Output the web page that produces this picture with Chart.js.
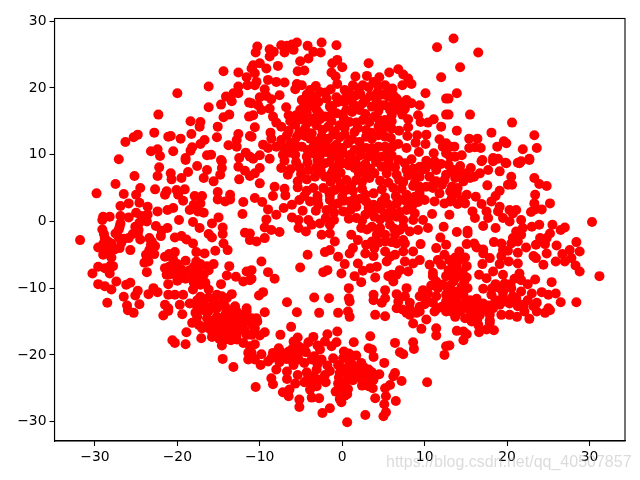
<!DOCTYPE html>
<html><head><meta charset="utf-8">
<style>html,body{margin:0;padding:0;background:#fff}canvas{display:block}</style>
<script src="https://cdn.jsdelivr.net/npm/chart.js@4"></script></head>
<body><canvas id="c" width="640" height="480"></canvas>
<script>
const xTicks=[-30,-20,-10,0,10,20,30];
const yTicks=[-30,-20,-10,0,10,20,30];
const watermark="https://blog.csdn.net/qq_40507857";
const upperLeft=[[-14.4,22.5],[-12.6,22.3],[-11.6,21.6],[-11,22.9],[-16.2,20.2],[-20,19.2],[-12.6,20.2],[-14.1,18.7],[-13.2,19.2],[-12.6,19.2],[-13.4,18],[-14.7,17.5],[-16.2,17.1],[-11.3,17.8],[-11.5,20.4],[-22.3,16],[-13.7,16],[-14.4,15.6],[-11.3,15.7],[-18.4,15],[-17.2,14.9],[-17.3,14.2],[-15.1,14.2],[-18.3,13.1],[-12.6,13.1],[-22.8,13.3],[-24.8,13],[-25.3,12.6],[-26.3,11.9],[-21.1,12.7],[-20.8,12.8],[-19.6,12.4],[-15.2,12.6],[-12.8,12.2],[-11.2,12.8],[-16.7,12.2],[-17.2,11.6],[-13.8,11.4],[-12.8,11.2],[-18.2,11.1],[-18.4,10.6],[-22.4,10.8],[-23.2,10.5],[-20.5,10.5],[-22.1,9.8],[-11.7,10.3],[-19,9.5],[-16.4,9.9],[-15.9,10],[-14.7,9.2],[-12.5,9.5],[-27.1,9.3],[-11.2,9.7]];
const upperMiddle=[[-10.3,26.2],[-10.5,25.3],[-8.8,25.8],[-8.3,25.4],[-8.8,24.7],[-7.4,26.4],[-6.7,26.3],[-6.1,26.5],[-5.5,26.8],[-7,25.3],[-5.9,25.7],[-4.2,26.3],[-2.5,26.8],[-0.7,26.4],[-3.5,25.4],[-2.6,25.3],[-4.1,24.4],[-5.1,24],[-5.4,22.5],[-4.6,22.6],[-7.8,23.3],[-10,23.7],[-10.8,23.4],[-9.2,22.9],[-10.6,22.2],[-0.6,24.2],[-1.2,23.7],[0,23.1],[-1.3,22.3],[-0.8,21.7],[3.2,23.7],[5.7,22.3],[6.8,22.8],[7.4,22],[8,21.4],[8.4,20.6],[1.6,21.7],[3,21.8],[4.5,21.6],[6.1,19.9],[7.3,20.4],[12,21.6],[11.5,26.1],[10.1,19.2],[12.6,18.4],[12.6,16],[9.4,17.4],[9.2,15.9],[9.5,14.9],[10.4,14.8],[11.1,15.3],[12,14.2],[8,15.3],[8,14.1],[6.9,13.6],[7.9,12.8],[9.1,12.9],[10.2,13],[8.9,11.8],[10.1,11.6],[11.8,12.3],[12.6,11.7],[12.2,11.2],[6.8,11.6],[6.1,11.2],[7.8,11],[9.3,10.4],[11.1,10.2],[12.6,10.2],[6,9.9],
[-10.4,20.9],[-9,21.2],[-8,20.9],[-7,20.8],[-9.4,19.8],[-10.6,20.4],[-7.6,18.9],[-5.5,20.6],[-4.9,20.4],[-5.7,19.8],[-9.2,18.8],[-8.6,18.3],[-10,18.6],[-11,17.7],[-10.2,17.4],[-8.8,16.9],[-9.8,16.7],[-10.8,15.9],[-6.8,17.1],[-6.5,15.9],[-8.4,15.7],[-8,14.8],[-7.4,14.2],[-10.6,14.1],[-8.7,13.3],[-11,12.7],[-9.6,11.5],[-8.6,12.4],[-9,11],[-8,11.2],[-7.2,10],[-10,9.9],[-8.8,9.4],[-10.8,9.4],
[-3.9,19.7],[-2.7,19.4],[-1.4,19.8],[-4.9,18.2],[-3.9,18.2],[-2.9,17.9],[-1.9,18.4],[-4.1,17.2],[-5.1,16.7],[-3.1,16.7],[-1.5,17.2],[-0.5,17.9],[0.3,19.7],[1.3,20.4],[2.5,20.4],[3.8,20.9],[5.2,20.4],[1.7,18.9],[2.8,18.2],[0.9,18.2],[4.2,19.2],[5.6,18.7],[6.6,18.4],[7.8,18.2],[8.4,17.7],[4.8,17.4],[5.8,16.7],[6.8,16.7],[7.6,16.9],[3.6,17.2],[2.1,16.7],[0.5,16.7],[-0.7,16.2],[-2.1,15.7],[-3.5,15.4],[-4.7,15.2],[-5.7,14.5],[-4.5,13.9],[-3.1,14.4],[-1.7,14.2],[-0.3,14.4],[0.9,14.9],[2.5,15.2],[3.9,15.7],[5.2,15.2],[4.4,14.2],[5.4,14.2],[2.9,13.7],[1.5,13.4],[0.3,13],[-1.1,13],[-2.5,12.7],[-3.9,12.4],[-5.5,12.7],[-6.7,12.9],[-6.3,11.7],[-4.9,11.2],[-3.5,11.2],[-2.1,11.5],[-0.7,11.5],[0.7,11.7],[2.1,11.9],[3.6,12.4],[5.2,12.7],[4.4,11.2],[2.9,11],[1.5,10.7],[0.1,10.2],[-1.3,9.9],[-2.7,9.9],[-4.3,9.7],[-5.7,10],[3.2,9.7],[4.8,9.7],[0.9,9.4]];
const upperRight=[[13.5,27.4],[16.5,25.3],[14.3,23.1],[13.9,19.2],[12.9,18.4],[15.5,16],[12.9,16],[20.6,14.8],[13.9,13.6],[18.1,13.3],[23.3,12.9],[15.4,12.4],[16.4,12.4],[19.6,12],[19.9,11.7],[18.8,11.2],[21.9,10.8],[23.6,11],[13.6,11.2],[15.4,11],[16.1,11.1],[16.8,11],[13.1,11.2],[14.5,9.9],[13.7,9.7],[13.1,9.7],[17,9.2],[18.3,9.5],[18.9,9.4],[19.8,8.8],[22.7,9.4],[21.7,9],[21.3,8.8]];
const middleLeft=[[-22.2,8.1],[-22.4,6.8],[-19,9.2],[-17.6,8.3],[-25.2,6.8],[-20.8,7.2],[-18.7,7.4],[-20.7,6.3],[-19.5,6.5],[-16.4,7.7],[-16.8,6.5],[-15.6,6],[-14.8,7],[-14.6,8],[-14.6,9],[-12.6,8.2],[-11.8,7.6],[-12.5,6.3],[-11.2,6.8],[-27.5,5.6],[-29.8,4.2],[-24.5,5],[-22.7,4.8],[-25,4],[-26.5,4.1],[-21.3,4.5],[-21.5,4],[-20.1,4.7],[-19.1,4.8],[-19.9,4],[-19.3,3.1],[-17.9,3.8],[-17,3.8],[-15.1,4.4],[-15.1,3.3],[-13.6,4],[-14.2,3],[-13.6,3.3],[-12,2.9],[-26.9,2.3],[-25.9,2.7],[-24.6,2.8],[-23.6,2.2],[-18,2.5],[-17.2,2.7],[-18.5,1.7],[-17.5,1.5],[-16.8,1.3],[-21.2,1.7],[-20.5,2],[-22.4,1.5],[-12.1,1.1],[-29,0.7],[-28.2,0.7],[-29.1,0.2],[-26.9,0.8],[-25.9,0.6],[-24.4,0.8],[-23.7,0],[-24.6,-0.2],[-19.8,0.2],[-18.1,-0.1],[-15,0.6],[-15.8,-0.3],[-26.9,-0.3],[-29.1,-1.2],[-27.1,-1.2],[-24.7,-1.3],[-22.6,-0.7],[-21.2,-1],[-21.9,-1.4],[-17.3,-1],[-14.5,-0.9],[-11.8,-1.7],[-11.2,-1.8],[-31.8,-2.8],[-28.8,-2.5],[-27.1,-2.4],[-25.9,-2.5],[-24.5,-2.7],[-22,-2.2],[-20.3,-2.4],[-19.5,-2.2],[-18.9,-2.7],[-16.2,-1.9],[-15.8,-2.4],[-14.5,-1.9],[-14.4,-3.3],[-23.4,-2.5],[-18.1,-3.3],[-29,-3.4],[-28,-3.3],[-29.6,-3.9],[-28.8,-4.3],[-27.6,-4.2],[-25.7,-4.3],[-23.2,-3.5],[-22.7,-3.7],[-23.4,-4.3],[-17.7,-4.6],[-16.7,-4.8],[-15.4,-4.4],[-13.9,-4.3],[-20.3,-4.6],[-21,-4.9],[-22.8,-4.9],[-21.5,-5.3],[-28,-5.4],[-20.5,-5.8],[-23.7,-5.5],[-24,-6.2],[-23.5,-6],[-19,-5.9],[-17.7,-6],[-15.6,-6.4],[-16.4,-6.7],[-27.8,-6.7],[-29.6,-6.8],[-28.8,-7],[-13.7,-6.7],[-21.5,-7],[-20.7,-7],[-19.5,-7.2],[-18.5,-7.3],[-17.5,-7],[-30.3,-7.8],[-28.2,-7.8],[-23.7,-7.6],[-21.3,-8],[-20,-8],[-18,-8.3],[-16.8,-8],[-14,-8.1],[-12.9,-8.3],[-11.6,-7.5],[-12,-9],[-11.2,-8.8],[-20,-8.9],[-21.1,-9.4],[-17.2,-9.5],[-14.7,-9.4],[-29.6,-9.4],[-27.4,-9],[-25.7,-9.2],[-26.2,-9.5],[-28.8,-9.7],[-28,-10.2],[-24.8,-10.4],[-22.9,-10],[-23.5,-10.9],[-22.4,-10.6],[-26.5,-11.3],[-25.1,-11.1],[-18.1,-10.2],[-16.2,-10.2],[-21.1,-11],[-20.3,-11],[-19.3,-11],[-17.2,-11.3],[-15.2,-11],[-13.4,-10.9],[-14,-11.5],[-28.5,-12.2],[-24.6,-12.4],[-26.1,-12.6],[-21.5,-12.5],[-19.7,-12.5],[-18.5,-12.3],[-16.8,-12.3],[-15.6,-12],[-14.8,-12.5],[-13,-12.7],[-11.6,-13],[-21.1,-13]];
const center=[[-10,8],[-10,5.7],[-10.6,7.2],[-8.2,5.2],[-8.4,3.8],[-10.6,3.5],[-9.7,2.9],[-9,1.8],[-8,1],[-9.2,0.3],[-9.4,-0.9],[-8.6,-1.3],[-7.6,-1.6],[-9.4,-2.5],[-10.4,-3],[-11.2,-2.8],[-5.2,3.2],[-4.8,1.6],[-6.1,0.6],[-7.1,2],[-6.1,2.5],[-5.3,0.2],[-5.3,-1],[-4.4,-1.5],[-4.1,0.2],[-3.7,-0.5],[-2.7,-0.3],[-1.5,-0.5],[-2.5,-2],[-1.5,-1.8],[-0.9,-3],[-2.1,-4.6],[-1.5,-4.3],[-0.5,-5.3],[0.3,-6.4],[-4.2,-5],[-5.1,-6.9],[-9.8,-6],[-9,-7.6],[-8.2,-8.6],[-11,-7.3],[-11,-8.6],[-9.6,-10.6],[-10.1,-11.1],[-1.8,-7.3],[-2.3,-7.6],[-0.1,-7.8],[1.5,-8.2],[2.3,-9.1],[4,-8.4],[1.9,-6.3],[2.5,-7.4],[0.8,-10],[0.8,-11.5],[0.9,-12],[-3.4,-11.4],[-1.6,-11.5],[-6.7,-12.1],[3.8,-11],[3.8,-11.8],[5.2,-10.3],[4.8,-12.2],[5.2,-11.5],[6.6,-10.9],[7.8,-10],[6,-8],[5.6,-8.2],[6.6,-8],[6.2,-9],[9.5,-3.4],[12.3,-0.8],[11.9,-2.4],[10.9,1.1],[8.6,5.3],
[-4.1,7.7],[-3.1,8.2],[-2.1,8.7],[-1.1,7.7],[0.1,8.7],[1.5,8],[2.8,7.2],[-3.3,6.7],[-2.1,6.7],[-0.7,6.5],[0.5,6.2],[1.7,6.2],[-3.5,5],[-2.3,5],[-0.9,4.7],[0.5,4.7],[-3.9,3],[-2.9,2.5],[-1.5,3.2],[-0.5,2.7],[0.9,3],[-1.9,1.7],[0.1,1.5],[1.7,2.2],[2.9,3],[1.7,0.5],[2.8,1],[3.8,4.2],[4.8,3],[3.8,2.5],[3.9,0.7],[5.2,1.2],[6.6,2.7],[7.8,3],[6.6,0.7],[5.8,-0.5],[4.6,-1],[3.6,-0.8],[1.1,-2],[2.3,-1],[1.9,-2.8],[2.9,-3.5],[4.2,-2],[5.2,-2],[6.4,-2],[3.9,-4],[1.3,-4],[2.8,-4.8],[0.9,-4.8],[5.2,-4.5],[6.4,-5],[7.4,-4.5],[8.6,-4.5],[9.4,-5.8],[7.6,-6],[8.6,-6.3],[4.2,-6.8],[3.4,-7],[5.4,-6],[8,-7.5],[7,-7.3],[6.6,-3.3],[5.2,-3],[7.4,-2.8],[8.6,0.2],[9.8,0.2],[8.8,1.2],[10.4,-1],[9.2,-1.3],[8.2,-1.5],[7.4,-0.8],[7.8,1.7],[6.6,7],[6.2,5],[4.8,8.2],[3.3,6.5],[5.8,8.2],[7.8,7.7],[9.4,6.7],[10.2,5.2],[8.8,3.7],[10,3.2],[11.2,3],[12.4,2.7],[10.6,6.7],[11.4,7.7],[12.6,7],[12.1,5.5],[13.1,4.5],[7.6,8.7],[9.4,8.2],[12.9,8.5],[11.8,4.2],
[10.6,-6.5],[11,-7.7],[11.6,-5.8],[12.4,-5],[11.4,-4],[12.6,-3.5],[12,-6.5],[12.9,-7.3],[11.4,-9],[11,-8.2],[12.6,-8.2],[12.2,-9.5],[9.8,-10.3],[9.4,-11.2],[10.4,-10.8],[11.4,-11.2],[12.6,-11],[11,-12.2],[10.2,-11.5],[8.2,-12.2],[6.8,-12],[7.6,-11.2],[9.4,-12.8],[12.1,-12.8],[6.6,-13]];
const middleRight=[[15.6,8],[13.5,7.7],[16.9,9],[18.3,9],[19.9,8.7],[21.5,8.7],[22.7,9.2],[17.7,7.7],[16.7,7.2],[19.1,7.5],[20.5,6.7],[15.5,6.5],[14.7,6],[13.7,6.5],[23.3,6.5],[23.9,5.6],[24.8,5.3],[17.6,5.4],[20.1,5.5],[20.6,5.5],[13.3,5.2],[14,5],[19.1,4.6],[18.6,3.8],[23.4,4],[15.1,4],[16.2,3.7],[13.3,3.5],[18.1,3],[14.5,3.2],[14,2.6],[14.9,2.7],[16.9,2.6],[25.2,2.7],[23.3,2.7],[13.1,3],[19.1,2.2],[23.4,1.8],[24.2,1.8],[22.9,1.4],[15.8,1.5],[17.5,1.5],[20.3,1.7],[21.1,1.7],[18.9,1.5],[20.7,1.2],[16.1,0.5],[17.7,0.5],[19.5,0.5],[20.3,0],[21.7,0.2],[13,1],[30.3,-0.1],[17.1,-0.7],[18.6,-1],[13.9,-1.6],[15.2,-1.4],[15.2,-1.8],[23.9,-0.5],[23,-0.8],[25.5,-0.5],[27,-0.9],[26.5,-1.3],[25.2,-1.8],[21.9,-1],[21.1,-1.5],[21.7,-2],[20.7,-2.5],[24,-2.5],[24.8,-2.5],[18.4,-3.1],[19.3,-3.3],[15.1,-3.4],[16,-3.3],[20.5,-3.3],[21.3,-3],[23.5,-3.5],[24.6,-3.4],[26,-3.6],[28.4,-3.1],[22.3,-3.9],[17.1,-4.2],[16.3,-3.9],[19.5,-4.3],[20.1,-4.4],[28.8,-4.5],[27.6,-4.3],[26.7,-4.9],[24.8,-4.8],[21.3,-4.7],[14.2,-4.5],[23.2,-5.2],[23.5,-5.5],[19.3,-5.2],[17.1,-4.8],[17.9,-5.5],[13.7,-5.4],[14.9,-5.4],[14.2,-5.8],[25.9,-6],[27,-6],[27.8,-5.5],[24.4,-6.5],[17,-6.4],[20.2,-6],[21.3,-6.3],[19.1,-6.4],[28.3,-6.6],[15.1,-6.7],[13.9,-6.8],[28.8,-7.5],[31.2,-8.2],[21.5,-7.8],[19.5,-8],[18.3,-7.5],[16.6,-8],[17.5,-8.5],[21.7,-8.8],[23.4,-8.7],[25.4,-9.1],[22.5,-9.4],[19.7,-9.3],[15.1,-8.4],[14.1,-8],[13.3,-7.8],[13.5,-9],[14.5,-9.8],[17.1,-10.1],[19.1,-10],[20.5,-10],[21.7,-10.5],[23,-10.8],[24.2,-10.6],[25,-11],[25.9,-10.8],[13.5,-10.5],[14.7,-11],[16.3,-11.6],[18.1,-11],[19.5,-11.3],[21.1,-11.5],[22.5,-11.8],[26.5,-12.1],[28.4,-12.1],[13.9,-12],[17.1,-12.3],[19.1,-12.5],[20.3,-12.3],[21.7,-12.5],[23.2,-12.7],[25,-13],[13.3,-12.8],[15.1,-13]];
const lowerLeft=[[-25.3,-13.7],[-26,-13.3],[-21.7,-14.1],[-21.1,-13.4],[-19.4,-13.9],[-17.8,-13.7],[-18.9,-16.6],[-18.2,-15.2],[-17.4,-15.5],[-17.1,-17.5],[-20.6,-17.8],[-20.3,-18.2],[-19,-18.4],[-14.5,-20.6],[-13.2,-21.8],[-11.4,-20.7],[-14.6,-18.6],[-15.8,-17.3],[-16.4,-14.5],[-15.2,-14.3],[-13.8,-14.5],[-15.6,-15.5],[-14.6,-15.7],[-13.4,-15.7],[-12.4,-16],[-12.6,-14.7],[-16,-16.2],[-15,-16.7],[-13.8,-16.7],[-12.8,-17],[-14.2,-17.7],[-14.8,-14.7],[-14.4,-15],[-15.2,-16],[-12.8,-17.7],[-11.6,-17],[-12,-18.2],[-11.2,-18.7],[-11.4,-19.7],[-17.6,-14.3],[-17,-16],[-11.6,-13.5],[-12.8,-13.5]];
const lowerMiddle=[[-5.5,-13.6],[-2.8,-13.7],[-0.5,-13.7],[0.7,-13.5],[0.9,-14.3],[4,-14],[5.2,-14.2],[-9.4,-13.6],[-10.4,-14.5],[-6.2,-15.8],[-10.6,-16],[-9.4,-16.6],[-10,-17.1],[-11,-17],[-7.5,-17],[-0.6,-16.5],[-1.8,-16.9],[3.4,-17.2],[-5.4,-17.4],[-3.5,-17.3],[-5.9,-18],[-4.1,-18.1],[-2.1,-18],[-0.7,-18.1],[1.4,-18.1],[6.4,-18.2],[8.6,-18.1],[8.7,-19.1],[-7.7,-19],[-8.4,-19.7],[-6.5,-19.5],[-5.1,-19],[-2.7,-19.2],[-1.3,-18.7],[3.2,-19],[3.6,-19.2],[3.8,-20.3],[7,-19.6],[7.4,-19.9],[0.2,-19.5],[-9.8,-19.9],[-11,-19.7],[-10.6,-20.7],[-9.9,-21.5],[-9,-21],[-7.6,-21.1],[-6.3,-20.7],[-5.3,-20.7],[-3.7,-20.7],[-2.5,-20.7],[-1.1,-20.5],[0.1,-20.5],[1.7,-20.1],[2.3,-21.2],[5.1,-21.2],[0.9,-21],[-5.9,-21.5],[-0.5,-21.5],[-8,-22.2],[-6.7,-22.5],[-4.3,-22.6],[-3.1,-22.2],[-2.1,-23],[0.5,-22],[1.5,-22],[3.2,-22.2],[4.5,-22.9],[6.4,-22.7],[6.2,-23.2],[-0.3,-22.7],[2.5,-23],[0.9,-23],[-8.6,-23.5],[-6.7,-23.6],[-8.4,-24.4],[-5.7,-24.3],[-4.6,-24.1],[-3.7,-24],[-2.9,-23.7],[-2,-24.1],[-0.5,-24.3],[0.5,-24],[1.3,-23.8],[3,-23.5],[3.8,-23.7],[7.2,-23.9],[10.3,-24.1],[-10.5,-24.8],[5.8,-24.5],[2.4,-24.6],[3.2,-24.7],[3.7,-25],[5.2,-25],[-0.1,-25],[0.7,-25.1],[-3.9,-25.2],[-3.1,-24.7],[-7.2,-25.6],[-6.4,-25.2],[-6.5,-26.2],[-3.7,-26.4],[-2.8,-26.5],[0.3,-26.1],[-0.3,-26.6],[-0.1,-27.1],[4,-26.5],[5.3,-26.2],[6.5,-26.9],[-5.2,-26.7],[-5.2,-27.8],[5.1,-27.4],[-1.5,-28],[5.3,-28.6],[-2.4,-28.7],[2.8,-29],[5,-29.2],[0.6,-30.1],[8.2,-14],[9,-13.7],[10.2,-14.7],[8.6,-15.3],[9.6,-16.1],[11.4,-16],[11.4,-17.1],[12.6,-18.7],[12.4,-20],[11.2,-13.5],[7.8,-13.7],[12.6,-13.5]];
const lowerRight=[[13.9,-16.4],[14.7,-16.5],[15.1,-16.9],[14.7,-17.8],[16.6,-16.6],[17.5,-16.2],[18.4,-16.3],[17.9,-15.2],[16.5,-15.5],[15.7,-15],[14.9,-14.5],[13.7,-14.3],[17.9,-14],[16.7,-14],[15.7,-13.7],[22.7,-14.6],[21.2,-14.3],[19.3,-14],[20.3,-14],[24.6,-13.7],[25.2,-13.3],[23.6,-13.5],[22.1,-13.5],[14.3,-13.5],[17.9,-14.8],[13,-18.6]];
const denseCenter=[[-3.2,20.3],[-0.6,20.6],[0.9,19.2],[2,19.9],[3.2,20.1],[4.4,20.2],[5.6,19.6],[-4.3,19],[-3.2,18.7],[-2,19.3],[-0.7,18.6],[0.4,18.5],[2.2,19.1],[3.4,18.8],[5,19],[6.2,18.9],[-4.6,17.5],[-3.4,17.9],[-1.2,17.3],[0.3,17.9],[1.4,17.5],[2.5,17.7],[4.2,18],[5.2,17.4],[6.2,17.6],[7.1,17.8],[-5.6,15.9],[-4.3,16.3],[-2.8,16.2],[-1.4,15.9],[0,16],[1.2,16.4],[2.8,16.1],[4.4,16.6],[6,15.9],[7.3,16],[-6.3,15],[-5.2,15.6],[-4,14.9],[-2.7,15.3],[-1.3,15],[0.2,15.4],[1.7,14.8],[3.3,14.9],[4.5,15.2],[6,15],[-6.5,13.6],[-5.2,13.4],[-3.7,13.2],[-2.4,13.7],[-0.9,13.5],[0.3,14],[1.9,14],[3.5,13.3],[4.8,13.6],[6,13.9],[-7.4,12.2],[-5.8,11.9],[-4.5,12.8],[-3.1,12],[-1.7,12.4],[-0.3,12.6],[1.2,12.3],[2.9,12.7],[4.4,12.9],[5.9,12.5],[-7,11],[-5.6,11.2],[-4.2,10.7],[-2.8,10.8],[-1.3,11],[0,11],[2.2,10.6],[3.6,11],[5.2,11.2],[-6.4,10.3],[-3.5,10.2],[-2,10.4],[-0.5,10.5],[1,10],[2.2,9.9],[3.9,10.2],[5.4,10.1],[-7,9.1],[-5.6,8.9],[-4.2,8.8],[-3,9.2],[-1.5,8.9],[-0.4,9.3],[1.6,9.1],[2.8,8.6],[4.1,8.9],[5.6,9.1],[6.8,9.2],[8.4,9.3],[10.2,9.1],[11.2,9],[-7.4,8],[-6.3,7.8],[-5.2,8.1],[-2.6,7.6],[-0.5,8.3],[0.8,8.4],[2.2,8.2],[3.4,7.9],[6.4,8.1],[8.6,7.9],[10.1,7.9],[-6.6,7],[-5,7.1],[-3,7.4],[-1.3,7.2],[-0.2,7.3],[2,7.3],[3.9,7.2],[5.4,7.2],[6.9,6.2],[8,6.9],[8.8,7],[-5.4,6],[-4.3,6.3],[-1.4,5.9],[-0.2,5.6],[1.1,5.4],[2.4,5.9],[4.6,6.1],[5.6,5.8],[7.4,5.9],[8.8,5.8],[11.4,6],[-7,4.9],[-5.4,5.1],[-4.3,4.6],[-1.6,4.4],[-0.2,5],[1.3,4.6],[2.4,4.9],[4.8,4.8],[7.2,4.9],[9.4,5.2],[11,5],[-6.9,3.9],[-4.6,3.8],[-3,3.8],[-1.5,3.9],[0,3.7],[1.5,3.4],[2.8,4],[5.2,3.6],[6.5,3.8],[7.8,4],[9.4,3.9],[-3,3.2],[-1.1,2.4],[0.2,3.1],[2.2,3.4],[3.2,2],[5.5,2.6],[7,3.2],[8.6,2.6],[9.2,2.9],[-3.2,1.6],[-1,1.3],[1,1.7],[3.6,1.5],[4.6,1.9],[6,1.6],[7,1.4],[8.4,2],[-2,0.5],[-1,0.2],[0.8,0.4],[2.4,0.1],[4.6,0.3],[5.6,0.5],[7.4,0.2],[3,-1.2],[6.3,-1.1],[7,-1.3],[3.6,-3],[4.4,-3.2],[6,-3.1],[7.6,-3.3],[3.8,-5.2],[5.8,-5.3],[8.6,7.4],[9.8,7.8],[11,8.5],[12,8.6],[12.4,6.2],[11,5.4],[9.4,4.6],[13.2,7.5],[14.3,8.3],[15,7.2],[14.2,7],[16,6.7],[13.9,4.2]];
const denseClusters=[[14.6,-7.6],[13.4,-6.8],[13.1,-9.6],[14.2,-10.4],[15.2,-10],[13.7,-11.3],[15,-12],[14.8,-9],[13.7,-8.5],[14.3,-12.7],[12.9,-12],[13,-5.8],[15.5,-11.8],[16,-12.6],[17.8,-12.6],[18.6,-11.8],[18.3,-13],[19.8,-12],[20.7,-11.2],[19.5,-10.6],[18.6,-9.4],[20.4,-9.4],[20.9,-8.6],[16.4,-13],[15.6,-13.5],[16.4,-14.6],[17.2,-13.2],[21.3,-12.7],[22,-12.8],[23.6,-12.2],[18.2,-10],[10.8,-9.6],[11.6,-10],[12.8,-10],[12.6,-12],[13.2,-13.5],[11.6,-13],[9.4,-13.5],[10,-12.4],[8.2,-13],[7.3,-13.2],[-16.2,-13.4],[-15.2,-13],[-13.6,-13.4],[-14.2,-14],[-15.6,-14.8],[-13.2,-14.3],[-16,-15],[-13,-16.4],[-14,-16],[-14.2,-16.9],[-15.6,-16.8],[-13,-15.2],[-11.9,-15.2],[-11.8,-16.4],[-14.9,-17.6],[-13.5,-17.8],[-16.6,-15.8],[-16.8,-13.3],[-12,-14],[-11,-14.5],[-10.9,-15.5],[-10.6,-18.4],[-10.3,-15],[-17.6,-12.8],[-16,-12.9],[-15.4,-13],[-14.2,-12.8],[-17.6,-11.8],[-16.2,-11.4],[-14.6,-11.2],[-18,-9.2],[-17.6,-8.9],[-16.6,-9.2],[-19,-8.6],[-20.4,-7.6],[-21,-6.8],[-19.3,-8],[-17.2,-7.8],[-16.2,-7.3],[-18,-6.8],[-17.2,-6.4],[-20,-6.4],[-20.6,-5.4],[-20.8,-7.9],[-4.4,-19.6],[-3.4,-20.2],[-4.6,-21.2],[-3,-21.4],[-1.8,-21.6],[-1.5,-22.4],[-3.5,-23.2],[-4.2,-23.6],[-5.4,-23],[-0.2,-21.8],[0.6,-22.8],[1.2,-21.4],[1.9,-22.6],[-0.4,-23.4],[0.6,-25.9],[-0.8,-25.5],[2,-23.4],[3.3,-23],[-6,-19],[-7,-20],[-6.8,-20.6],[-7.6,-20],[-8.6,-20.5],[-7.4,-19.6],[-4.6,-19],[-3,-18.6],[0.8,-19.8],[1,-20],[2.6,-21.8],[3.6,-22.6],[-5.6,-19.6],[-5.4,-20],[-5.3,-18.7],[-28.9,-1.9],[-28.4,-3],[-28.5,-4.6],[-29,-5],[-27,-4],[-27,-0.8],[-27.5,-1.8],[-26.5,-2.6],[-25.4,-1.9],[-25.1,-0.8],[-23.9,0.8],[-25,1.3],[-24.8,-1.8],[-23.6,1],[-26.8,-3.2],[-28.1,-6.6],[-23.1,-3],[-23.8,-5]];
const points=[...upperLeft,...upperMiddle,...upperRight,...middleLeft,...center,...middleRight,...lowerLeft,...lowerMiddle,...lowerRight,...denseCenter,...denseClusters].map(p=>({x:p[0],y:p[1]}));
const tickFont={family:"'DejaVu Sans'",size:13.9};
const frame={id:'frame',afterDraw(c){const a=c.chartArea,g=c.ctx;g.save();g.strokeStyle='#000';g.lineWidth=1.1;g.strokeRect(a.left,a.top,a.right-a.left,a.bottom-a.top);
g.font="16px 'Liberation Sans'";g.fillStyle='rgba(190,190,190,0.55)';g.textBaseline='alphabetic';g.textAlign='left';g.fillText(watermark,386,467);g.restore();}};
new Chart(document.getElementById('c'),{type:'scatter',plugins:[frame],
data:{datasets:[{data:points,backgroundColor:'#ff0000',borderWidth:0,pointRadius:5,pointHoverRadius:5}]},
options:{responsive:false,animation:false,devicePixelRatio:1,layout:{padding:{top:18.5,right:15,left:0,bottom:0}},
plugins:{legend:{display:false},tooltip:{enabled:false}},
scales:{x:{type:'linear',min:-34.9,max:34.3,afterFit(s){s.height=39},afterBuildTicks(s){s.ticks=xTicks.map(v=>({value:v}))},
grid:{drawOnChartArea:false,color:'#000',tickColor:'#000',tickLength:5,tickWidth:1.1},border:{color:'#000',width:1.1},
ticks:{color:'#000',font:tickFont,padding:3,maxRotation:0,autoSkip:false,callback:v=>String(v).replace('-','\u2212')}},
y:{type:'linear',min:-32.9,max:30.4,afterFit(s){s.width=54.5},afterBuildTicks(s){s.ticks=yTicks.map(v=>({value:v}))},
grid:{drawOnChartArea:false,color:'#000',tickColor:'#000',tickLength:5,tickWidth:1.1},border:{color:'#000',width:1.1},
ticks:{color:'#000',font:tickFont,padding:3,autoSkip:false,callback:v=>String(v).replace('-','\u2212')}}}}});
</script></body></html>
